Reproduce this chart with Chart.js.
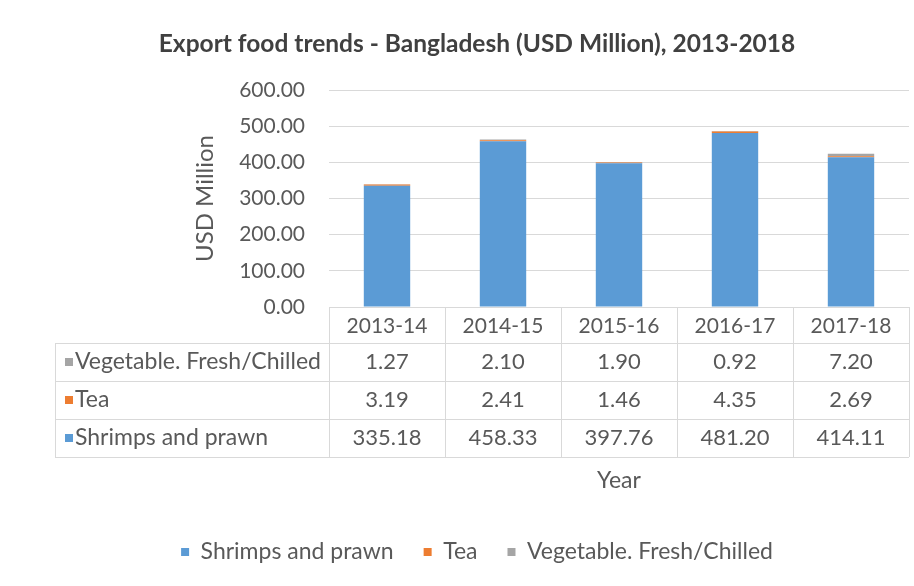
<!DOCTYPE html>
<html><head><meta charset="utf-8">
<script src="https://cdn.jsdelivr.net/npm/chart.js@4/dist/chart.umd.min.js"></script>
<style>html,body{margin:0;padding:0;background:#fff}#wrap{width:914px;height:586px;position:relative}</style>
</head><body><div id="wrap"><canvas id="c" width="914" height="586"></canvas></div>
<script>
const categories = ['2013-14','2014-15','2015-16','2016-17','2017-18'];
const shrimps = [335.18, 458.33, 397.76, 481.20, 414.11];
const tea = [3.19, 2.41, 1.46, 4.35, 2.69];
const vegetable = [1.27, 2.10, 1.90, 0.92, 7.20];
const seriesNames = ['Shrimps and prawn', 'Tea', 'Vegetable. Fresh/Chilled'];
const seriesColors = ['#5b9bd5', '#ed7d31', '#a5a5a5'];
const yTicks = [0, 100, 200, 300, 400, 500, 600];
const chartTitle = 'Export food trends - Bangladesh (USD Million), 2013-2018';
const yTitle = 'USD Million';
const xTitle = 'Year';

const FONT = 'Lato, Calibri, Carlito, sans-serif';
const TXT = '#595959';
const GRID = '#d9d9d9';

const seriesData = [shrimps, tea, vegetable];

const tablePlugin = {
  id: 'dataTable',
  afterDraw(chart) {
    const {ctx, chartArea: {left, right, bottom}} = chart;
    const n = categories.length;
    const colW = (right - left) / n;
    const headerH = 36, rowH = 38;
    const tableLeft = 55;
    const tableBottom = bottom + headerH + rowH * 3;
    ctx.save();
    ctx.strokeStyle = GRID;
    ctx.lineWidth = 1;
    ctx.beginPath();
    for (let i = 0; i <= n; i++) {
      const xx = Math.round(left + i * colW) + 0.5;
      ctx.moveTo(xx, bottom);
      ctx.lineTo(xx, tableBottom);
    }
    ctx.moveTo(tableLeft + 0.5, bottom + headerH);
    ctx.lineTo(tableLeft + 0.5, tableBottom);
    for (let k = 0; k <= 3; k++) {
      const yy = Math.round(bottom + headerH + k * rowH) + 0.5;
      ctx.moveTo(tableLeft, yy);
      ctx.lineTo(right, yy);
    }
    ctx.stroke();
    ctx.textBaseline = 'middle';
    for (let r = 0; r < 3; r++) {
      const di = 2 - r;
      const cy = bottom + headerH + r * rowH + rowH / 2;
      ctx.fillStyle = seriesColors[di];
      ctx.fillRect(65, Math.round(cy - 4), 8, 8);
      ctx.fillStyle = TXT;
      ctx.textAlign = 'left';
      ctx.font = '23px ' + FONT;
      ctx.fillText(seriesNames[di], 75, cy);
      ctx.textAlign = 'center';
      ctx.font = '22px ' + FONT;
      for (let i = 0; i < n; i++) {
        const cx = chart.scales.x.getPixelForValue(i);
        ctx.fillText(seriesData[di][i].toFixed(2), cx, cy);
      }
    }
    ctx.restore();
  }
};

new Chart(document.getElementById('c'), {
  type: 'bar',
  data: {
    labels: categories,
    datasets: seriesNames.map((name, i) => ({
      label: name,
      data: seriesData[i],
      backgroundColor: seriesColors[i],
      borderWidth: 0,
      categoryPercentage: 0.8,
      barPercentage: 0.5
    }))
  },
  options: {
    responsive: false,
    animation: false,
    devicePixelRatio: 1,
    layout: {padding: {left: 45, right: 5, top: 0, bottom: 12.5}},
    plugins: {
      title: {
        display: true, text: chartTitle, color: '#404040',
        font: {family: FONT, size: 24.5, weight: 'bold'},
        padding: {top: 29.3, bottom: 31.3}
      },
      legend: {
        position: 'bottom',
        labels: {boxWidth: 8, boxHeight: 8, color: TXT, font: {family: FONT, size: 23}, padding: 30}
      },
      tooltip: {enabled: false}
    },
    scales: {
      x: {
        stacked: true,
        offset: true,
        grid: {display: false, drawTicks: false},
        border: {display: false},
        ticks: {padding: 7, color: TXT, font: {family: FONT, size: 21}},
        title: {display: true, text: xTitle, color: TXT, font: {family: FONT, size: 23}, padding: {top: 0, bottom: 15.7}},
        afterFit(s) { s.height = 203.5; }
      },
      y: {
        stacked: true,
        min: 0, max: 600,
        afterBuildTicks(s) { s.ticks = yTicks.map(v => ({value: v})); },
        ticks: {padding: 24, color: TXT, font: {family: FONT, size: 21}, callback: v => Number(v).toFixed(2)},
        grid: {color: GRID, drawTicks: false},
        border: {display: false},
        title: {display: true, text: yTitle, color: TXT, font: {family: FONT, size: 24}, padding: {top: 145.6, bottom: 0}},
        afterFit(s) { s.width = 284; }
      }
    }
  },
  plugins: [tablePlugin]
});
</script></body></html>
